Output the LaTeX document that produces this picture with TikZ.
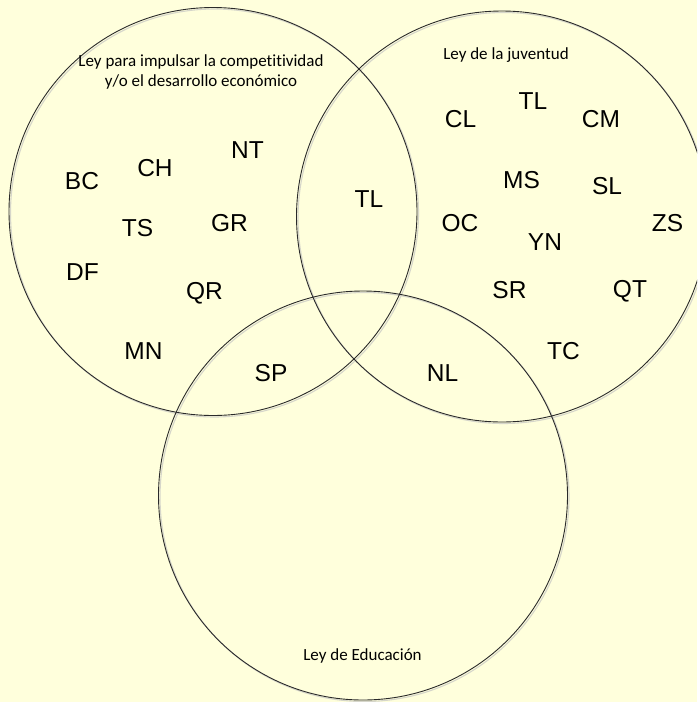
\documentclass[tikz,border=0pt]{standalone}
\usepackage{fontspec}
\setmainfont{Liberation Sans}
\newfontfamily\titlefont[Ligatures=NoCommon]{Carlito}
\definecolor{paper}{HTML}{FFFFDC}
\definecolor{rimshade}{HTML}{D6D6CA}
\definecolor{rimline}{HTML}{2A2A2A}
\begin{document}
\begin{tikzpicture}[x=1pt,y=-1pt,
  setring/.style={circle, inner sep=0pt, outer sep=0pt, draw=rimline, line width=0.9pt},
  ringshade/.style={draw=rimshade, line width=1.1pt},
  code/.style={inner sep=0pt, font=\fontsize{24.5}{24.5}\selectfont, text height=17.5pt, text depth=0pt},
  settitle/.style={inner sep=0pt, anchor=base, font=\titlefont\fontsize{17}{20}\selectfont, align=center}]
% page and background
\useasboundingbox (0,0) rectangle (697,702);
\clip (0,0) rectangle (697,702);
\fill[paper] (0,0) rectangle (697,702);

% soft offset rims under the three sets
\draw[ringshade] (214.5,213) circle [radius=204pt];
\draw[ringshade] (503.5,218) circle [radius=205.5pt];
\draw[ringshade] (364.5,497) circle [radius=204.5pt];

% the three sets
\node[setring, minimum size=408pt] (compet) at (213,211.5) {};
\node[setring, minimum size=411pt] (juventud) at (502,216.5) {};
\node[setring, minimum size=409pt] (educ) at (363,495.5) {};

% set titles
\node[settitle] (tcompet) at (201,86) {Ley para impulsar la competitividad\\y/o el desarrollo económico};
\node[settitle] (tjuv) at (506,59.5) {Ley de la juventud};
\node[settitle] (teduc) at (362.5,660) {Ley de Educación};

% competitividad only
\node[code] (nt) at (247.5,149.5) {NT};
\node[code] (bc) at (82,181) {BC};
\node[code] (ch) at (155,168) {CH};
\node[code] (ts) at (137.5,228) {TS};
\node[code] (gr) at (229.5,223) {GR};
\node[code] (df) at (82.5,272) {DF};
\node[code] (qr) at (204.5,291) {QR};
\node[code] (mn) at (143.5,351) {MN};

% intersections
\node[code] (tlmid) at (369,199) {TL};
\node[code] (sp) at (271,373) {SP};
\node[code] (nl) at (442.5,373) {NL};

% juventud only
\node[code] (tl) at (533,100.5) {TL};
\node[code] (cl) at (460.5,119) {CL};
\node[code] (cm) at (601,119) {CM};
\node[code] (ms) at (521.5,180) {MS};
\node[code] (sl) at (607,186) {SL};
\node[code] (oc) at (460,222.5) {OC};
\node[code] (zs) at (667.5,222.5) {ZS};
\node[code] (yn) at (545,241.5) {YN};
\node[code] (sr) at (509.5,289.5) {SR};
\node[code] (qt) at (630,288.5) {QT};
\node[code] (tc) at (563.5,350.5) {TC};
\end{tikzpicture}
\end{document}
